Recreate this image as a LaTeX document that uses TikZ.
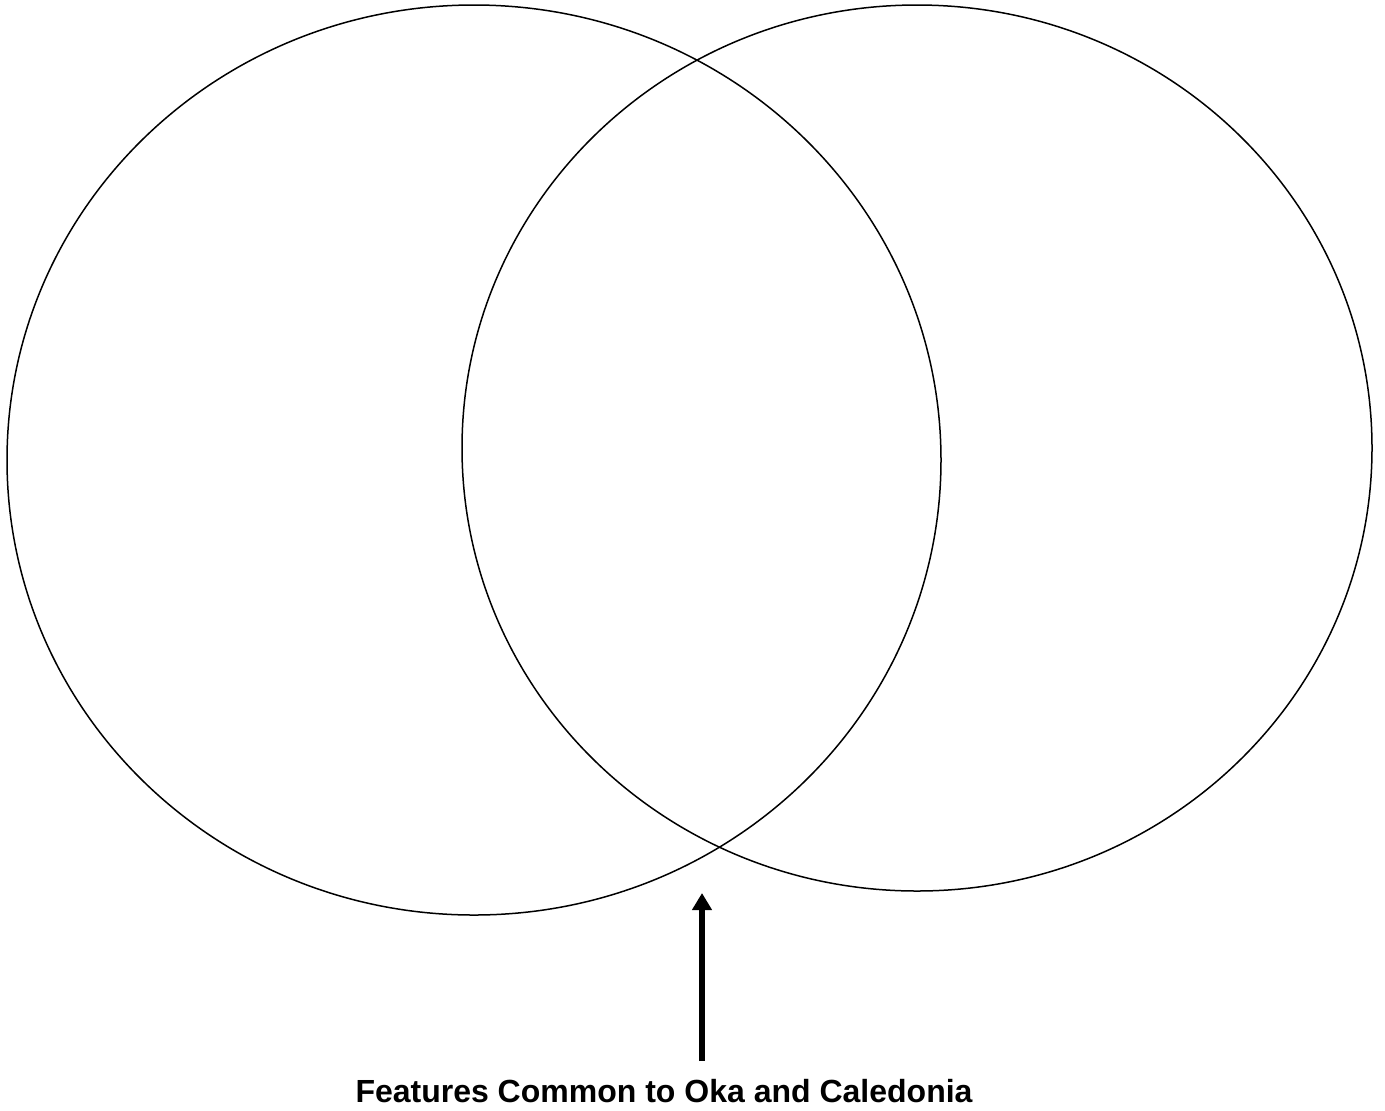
\documentclass[tikz,border=0pt]{standalone}
\usepackage{fontspec}
\setmainfont{Liberation Sans}
\usetikzlibrary{arrows.meta, positioning, shapes.geometric}

\begin{document}
\begin{tikzpicture}[
    x=0.5pt, y=-0.5pt,
    set/.style={ellipse, draw=black, line width=0.75pt, inner sep=0pt},
    pointer/.style={-{Triangle[length=8.5pt, width=9.5pt]}, line width=2.8pt},
    caption/.style={font=\fontsize{16}{19}\selectfont\bfseries, inner sep=0pt, anchor=base}
]
\useasboundingbox (0,0) rectangle (1385,1110);

% The two sets
\node[set, minimum width=467pt, minimum height=455pt] (oka) at (474,460) {};
\node[set, minimum width=455pt, minimum height=443pt] (caledonia) at (917,448) {};

% Common features
\node[caption] (common) at (664,1102) {Features Common to Oka and Caledonia};
\coordinate (tail) at (702,1061);
\coordinate (tip)  at (702,893);
\draw[pointer] (tail) -- (tip);
\end{tikzpicture}
\end{document}
